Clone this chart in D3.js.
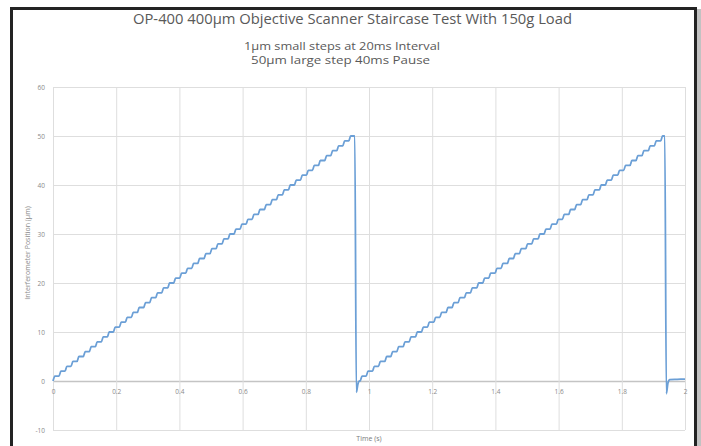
<!DOCTYPE html>
<html>
<head>
<meta charset="utf-8">
<script src="https://cdn.jsdelivr.net/npm/d3@7"></script>
<style>
  html, body { margin: 0; padding: 0; background: #ffffff; }
  svg { display: block; }
</style>
</head>
<body>
<script>
// ---------- data ----------
const titleText = "OP-400 400\u00b5m Objective Scanner Staircase Test With 150g Load";
const subtitleLines = ["1\u00b5m small steps at 20ms Interval", "50\u00b5m large step 40ms Pause"];
const xAxisLabel = "Time (s)";
const yAxisLabel = "Interferometer  Position (\u00b5m)";

const xTicks = [0, 0.2, 0.4, 0.6, 0.8, 1, 1.2, 1.4, 1.6, 1.8, 2];
const xTickLabels = ["0", "0.2", "0.4", "0.6", "0.8", "1", "1.2", "1.4", "1.6", "1.8", "2"];
const yTicks = [-10, 0, 10, 20, 30, 40, 50, 60];
const yTickLabels = ["-10", "0", "10", "20", "30", "40", "50", "60"];

// level reached after each small 1 µm step
const stepLevels = [1,2,3,4,5,6,7,8,9,10,11,12,13,14,15,16,17,18,19,20,
  21,22,23,24,25,26,27,28,29,30,31,32,33,34,35,36,37,38,39,40,
  41,42,43,44,45,46,47,48,49,50];

// start time (s) of each small step, first staircase
const cycle1StepTimes = [0.000,0.019,0.038,0.057,0.076,0.096,0.115,0.134,0.153,0.172,
  0.191,0.210,0.229,0.248,0.267,0.287,0.306,0.325,0.344,0.363,
  0.382,0.401,0.420,0.439,0.458,0.478,0.497,0.516,0.535,0.554,
  0.573,0.592,0.611,0.630,0.649,0.669,0.688,0.707,0.726,0.745,
  0.764,0.783,0.802,0.821,0.840,0.860,0.879,0.898,0.917,0.936];

// start time (s) of each small step, second staircase
const cycle2StepTimes = [0.972,0.991,1.011,1.030,1.050,1.069,1.088,1.108,1.127,1.147,
  1.166,1.185,1.205,1.224,1.244,1.263,1.282,1.302,1.321,1.341,
  1.360,1.379,1.399,1.418,1.438,1.457,1.476,1.496,1.515,1.535,
  1.554,1.573,1.593,1.612,1.632,1.651,1.670,1.690,1.709,1.729,
  1.748,1.767,1.787,1.806,1.826,1.845,1.864,1.884,1.903,1.923];

// large 50 µm step back down (times and positions)
const drop1Times  = [0.955, 0.960, 0.965, 0.970];
const drop1Values = [50, -2.3, -0.6, 0];
const drop2Times  = [1.936, 1.941, 1.946, 1.952, 1.975, 2.0];
const drop2Values = [50, -2.6, -0.4, 0.3, 0.35, 0.4];

const riseTime = 0.006; // visual duration of each small step edge

// ---------- layout ----------
const W = 701, H = 446;
const svg = d3.select("body").append("svg").attr("width", W).attr("height", H);

svg.append("rect").attr("x", 0).attr("y", 0).attr("width", W).attr("height", H).attr("fill", "#ffffff");

// frame shadow + frame
svg.append("rect").attr("x", 697).attr("y", 9).attr("width", 4).attr("height", H)
  .attr("fill", "#9a9a9a").attr("opacity", 0.6);
svg.append("rect").attr("x", 11.5).attr("y", 8.5).attr("width", 684).attr("height", H + 10)
  .attr("fill", "#ffffff").attr("stroke", "#232323").attr("stroke-width", 3);

const x = d3.scaleLinear().domain([0, 2]).range([53, 685]);
const y = d3.scaleLinear().domain([-10, 60]).range([430, 87]);

const grid = svg.append("g");
// horizontal gridlines
grid.selectAll("line.h").data(yTicks).join("line")
  .attr("x1", x(0)).attr("x2", x(2))
  .attr("y1", d => y(d) + 0.5).attr("y2", d => y(d) + 0.5)
  .attr("stroke", d => d === 0 ? "#c4c4c4" : "#dedede").attr("stroke-width", d => d === 0 ? 1.4 : 1);
// vertical gridlines
grid.selectAll("line.v").data(xTicks).join("line")
  .attr("x1", d => x(d) + 0.5).attr("x2", d => x(d) + 0.5)
  .attr("y1", y(60)).attr("y2", y(-10))
  .attr("stroke", "#dedede").attr("stroke-width", 1);

// y tick labels via axis
const yAxis = d3.axisLeft(y).tickValues(yTicks).tickFormat((d, i) => yTickLabels[i]).tickSize(0).tickPadding(0);
const yg = svg.append("g").attr("transform", `translate(${45},0)`).call(yAxis);
yg.select(".domain").remove();
yg.selectAll("text").attr("font-family", "Open Sans, sans-serif").attr("font-size", 6.5).attr("fill", "#8a8a8a");

// x tick labels (sit below the zero line)
const xAxis = d3.axisBottom(x).tickValues(xTicks).tickFormat((d, i) => xTickLabels[i]).tickSize(0).tickPadding(0);
const xg = svg.append("g").attr("transform", `translate(0,${y(0) + 8})`).call(xAxis);
xg.select(".domain").remove();
xg.selectAll("text").attr("font-family", "Open Sans, sans-serif").attr("font-size", 6.5).attr("fill", "#8a8a8a");

// ---------- series ----------
function staircase(times, levels) {
  const pts = [];
  times.forEach((t, i) => {
    pts.push([t, levels[i] - 1]);
    pts.push([t + riseTime, levels[i]]);
  });
  return pts;
}
const series = []
  .concat(staircase(cycle1StepTimes, stepLevels))
  .concat(drop1Times.map((t, i) => [t, drop1Values[i]]))
  .concat(staircase(cycle2StepTimes, stepLevels))
  .concat(drop2Times.map((t, i) => [t, drop2Values[i]]));

const line = d3.line().x(d => x(d[0])).y(d => y(d[1])).curve(d3.curveMonotoneX);
svg.append("path").datum(series)
  .attr("d", line)
  .attr("fill", "none")
  .attr("stroke", "#6b9fd6")
  .attr("stroke-width", 1.8)
  .attr("stroke-linejoin", "round");

// ---------- texts ----------
svg.append("text").attr("x", 133).attr("y", 23.5)
  .attr("font-family", "Open Sans, sans-serif").attr("font-size", 14.5)
  .attr("fill", "#595959").attr("textLength", 439).attr("lengthAdjust", "spacingAndGlyphs")
  .text(titleText);

svg.append("text").attr("x", 244).attr("y", 50)
  .attr("font-family", "Open Sans, sans-serif").attr("font-size", 10)
  .attr("fill", "#595959").attr("textLength", 196).attr("lengthAdjust", "spacingAndGlyphs")
  .text(subtitleLines[0]);
svg.append("text").attr("x", 251).attr("y", 64)
  .attr("font-family", "Open Sans, sans-serif").attr("font-size", 10)
  .attr("fill", "#595959").attr("textLength", 179).attr("lengthAdjust", "spacingAndGlyphs")
  .text(subtitleLines[1]);

svg.append("text").attr("x", 369).attr("y", 441).attr("text-anchor", "middle")
  .attr("font-family", "Open Sans, sans-serif").attr("font-size", 7)
  .attr("fill", "#7a7a7a").text(xAxisLabel);

svg.append("text").attr("transform", "translate(30,253) rotate(-90)").attr("text-anchor", "middle")
  .attr("font-family", "Open Sans, sans-serif").attr("font-size", 7)
  .attr("fill", "#8a8a8a").text(yAxisLabel);
</script>
</body>
</html>
